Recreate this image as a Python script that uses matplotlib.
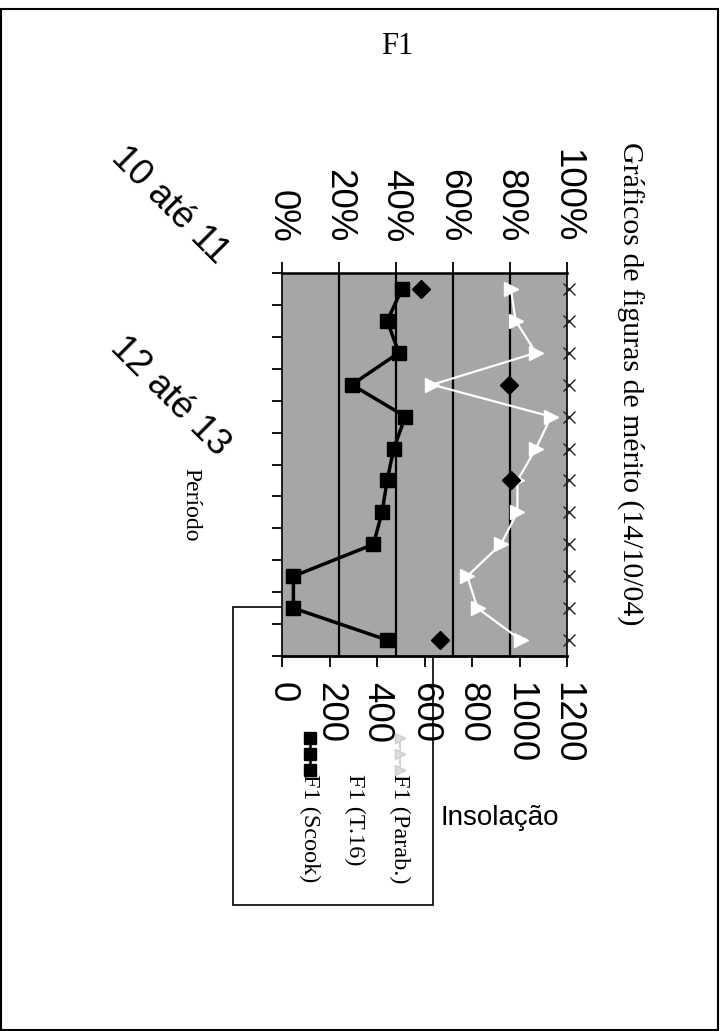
import numpy as np
import matplotlib.pyplot as plt
from matplotlib.patches import Rectangle
from matplotlib.lines import Line2D
from matplotlib.transforms import offset_copy, blended_transform_factory

plt.rcParams['font.family'] = ['Liberation Sans', 'DejaVu Sans']

# dados (12 períodos)
periodos = np.arange(12)
rotulos_periodo = {0: '10 até 11', 6: '12 até 13'}
f1_parab = [80.3, 82.0, 89.1, 52.7, 94.4, 89.1, 82.6, 82.6, 76.8, 65.0, 68.6, 83.8]
f1_t16 = [48.6, np.nan, np.nan, 79.7, np.nan, np.nan, 80.3, np.nan, np.nan, np.nan, np.nan, 55.6]
f1_scook = [42.1, 36.9, 41.0, 24.5, 43.3, 39.2, 36.9, 35.1, 32.1, 4.0, 4.0, 36.9]
insolacao = [1210, 1210, 1210, 1210, 1210, 1210, 1210, 1210, 1210, 1210, 1210, 1210]

pct_ticks = [0, 20, 40, 60, 80, 100]
ins_ticks = [0, 200, 400, 600, 800, 1000, 1200]

W, H = 720, 1031
fig = plt.figure(figsize=(W / 100, H / 100), dpi=100)

def fx(px): return px / W
def fy(py): return 1 - py / H

# borda da página
fig.patches.append(Rectangle((fx(1), fy(1030)), fx(717), (1029 - 8) / H, transform=fig.transFigure,
                             fill=False, ec='black', lw=1.5, zorder=-2))

ax = fig.add_axes([fx(282), fy(656), (567 - 282) / W, (656 - 273) / H])
ax.set_facecolor('#a6a6a6')
ax.set_xlim(0, 100)
ax.set_ylim(11.5, -0.5)

for g in [20, 40, 60, 80]:
    ax.axvline(g, color='black', lw=1.6, zorder=1)

ax.plot(f1_parab, periodos, color='white', lw=1.6, marker='>', ms=10, mfc='white', mec='white', zorder=3)
ax.plot(f1_t16, periodos, ls='none', marker='D', ms=9, color='black', zorder=3)
ax.plot(f1_scook, periodos, color='black', lw=2.5, marker='s', ms=10, zorder=4)

ax.set_yticks(np.arange(-0.5, 12, 1))
ax.set_yticklabels([])
ax.tick_params(axis='y', left=True, right=False, length=7, width=1.3)

# eixo secundário (Insolação) embaixo
ax2 = ax.twiny()
ax2.set_xlim(0, 1200)

ax.xaxis.tick_top()
ax.set_xticks(pct_ticks)
ax.set_xticklabels([f'{v}%' for v in pct_ticks])
ax.tick_params(axis='x', top=True, bottom=False, labeltop=True, labelbottom=False,
               labelrotation=-90, labelsize=26.5, length=8, width=1.3, pad=14)

ax2.xaxis.tick_bottom()
ax2.set_xticks(ins_ticks)
ax2.set_xticklabels([str(v) for v in ins_ticks])
ax2.tick_params(axis='x', top=False, bottom=True, labeltop=False, labelbottom=True,
                labelrotation=-90, labelsize=26.5, length=8, width=1.3, pad=11)
for s in ax2.spines.values():
    s.set_visible(False)
ax2.plot(insolacao, periodos, ls='none', marker='x', ms=8, mew=1.0, color='#222222', clip_on=False, zorder=5)

for s in ax.spines.values():
    s.set_color('black')
    s.set_linewidth(1.2)
ax.spines['top'].set_linewidth(1.8)
ax.spines['bottom'].set_linewidth(2.0)

# rótulos das categorias (inclinados)
base = blended_transform_factory(ax.transAxes, ax.transData)
for i, txt in rotulos_periodo.items():
    tr = offset_copy(base, fig=fig, x=-112, y=84, units='dots')
    ax.text(0, periodos[i], txt, transform=tr, rotation=-45, ha='center', va='center',
            rotation_mode='anchor', fontsize=26.5, clip_on=False)

fig.text(fx(397), fy(46), 'F1', family='Liberation Serif', fontsize=22, ha='center', va='center')
fig.text(fx(631), fy(384), 'Gráficos de figuras de mérito (14/10/04)', family='Liberation Serif',
         fontsize=21.5, rotation=-90, ha='center', va='center')
fig.text(fx(191), fy(505), 'Período', family='Liberation Serif', fontsize=17, rotation=-90,
         ha='center', va='center')
fig.text(fx(500), fy(818), 'Insolação', fontsize=20, ha='center', va='center')

# legenda (atrás da área do gráfico)
fig.patches.append(Rectangle((fx(233), fy(905)), (433 - 233) / W, (905 - 607) / H,
                             transform=fig.transFigure, fc='white', ec='black', lw=1.2, zorder=-1))
leg = [('F1 (Parab.)', 400, dict(color='#cccccc', lw=1.2, marker='>', ms=7, mfc='#dddddd', mec='#cccccc')),
       ('F1 (T.16)', 355, None),
       ('F1 (Scook)', 310, dict(color='black', lw=1.8, marker='s', ms=9))]
for nome, xp, st in leg:
    if st is not None:
        fig.add_artist(Line2D([fx(xp), fx(xp)], [fy(738), fy(770)], transform=fig.transFigure, **st))
        fig.add_artist(Line2D([fx(xp)], [fy(754)], transform=fig.transFigure, ls='none',
                              marker=st['marker'], ms=st['ms'], color=st['color'],
                              mfc=st.get('mfc', st['color']), mec=st.get('mec', st['color'])))
    fig.text(fx(xp), fy(774), nome, family='Liberation Serif', fontsize=17.5, rotation=-90,
             rotation_mode='anchor', ha='left', va='center')

fig.savefig('out.png', dpi=100)
